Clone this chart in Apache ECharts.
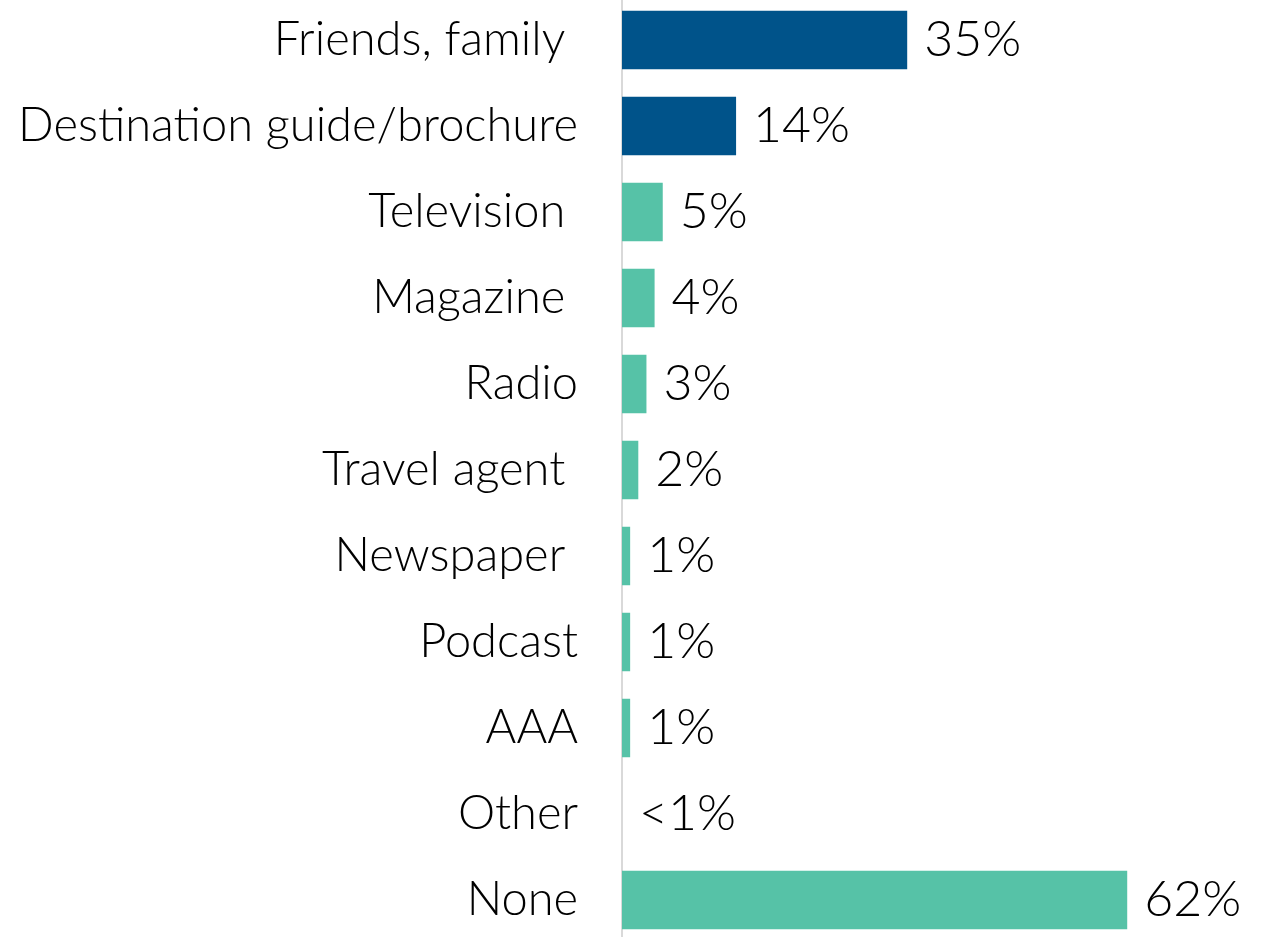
<!DOCTYPE html>
<html><head><meta charset="utf-8">
<script src="https://cdn.jsdelivr.net/npm/echarts@6/dist/echarts.min.js"></script>
<style>html,body{margin:0;padding:0;background:#fff}#c{width:1269px;height:937px}</style>
</head><body><div id="c"></div>
<script>
const categories = ["Friends, family ", "Destination guide/brochure", "Television ", "Magazine ", "Radio", "Travel agent ", "Newspaper ", "Podcast", "AAA", "Other", "None"];
const values = [35, 14, 5, 4, 3, 2, 1, 1, 1, 0, 62];
const valueLabels = ["35%", "14%", "5%", "4%", "3%", "2%", "1%", "1%", "1%", "<1%", "62%"];
const barColors = ["#00538A", "#00538A", "#56C2A7", "#56C2A7", "#56C2A7", "#56C2A7", "#56C2A7", "#56C2A7", "#56C2A7", "#56C2A7", "#56C2A7"];

const chart = echarts.init(document.getElementById('c'));
const font = 'Lato';
chart.setOption({
  animation: false,
  grid: {left: 622, right: 0, top: -3, height: 946, containLabel: false, outerBoundsMode: 'none'},
  xAxis: {type: 'value', min: 0, max: 79.4, show: false},
  yAxis: {
    type: 'category', inverse: true, data: categories,
    axisLine: {show: true, lineStyle: {color: '#d9d9d9', width: 2}},
    axisTick: {show: false},
    axisLabel: {color: '#000', fontSize: 47, fontFamily: font, fontWeight: 300, margin: 44}
  },
  series: [{
    type: 'bar', barWidth: '68%',
    data: values.map((v, i) => ({value: v, itemStyle: {color: barColors[i]}})),
    label: {
      show: true, position: 'right', distance: 17,
      color: '#000', fontSize: 50, fontFamily: font, fontWeight: 300,
      formatter: p => valueLabels[p.dataIndex]
    }
  }]
});
</script></body></html>
